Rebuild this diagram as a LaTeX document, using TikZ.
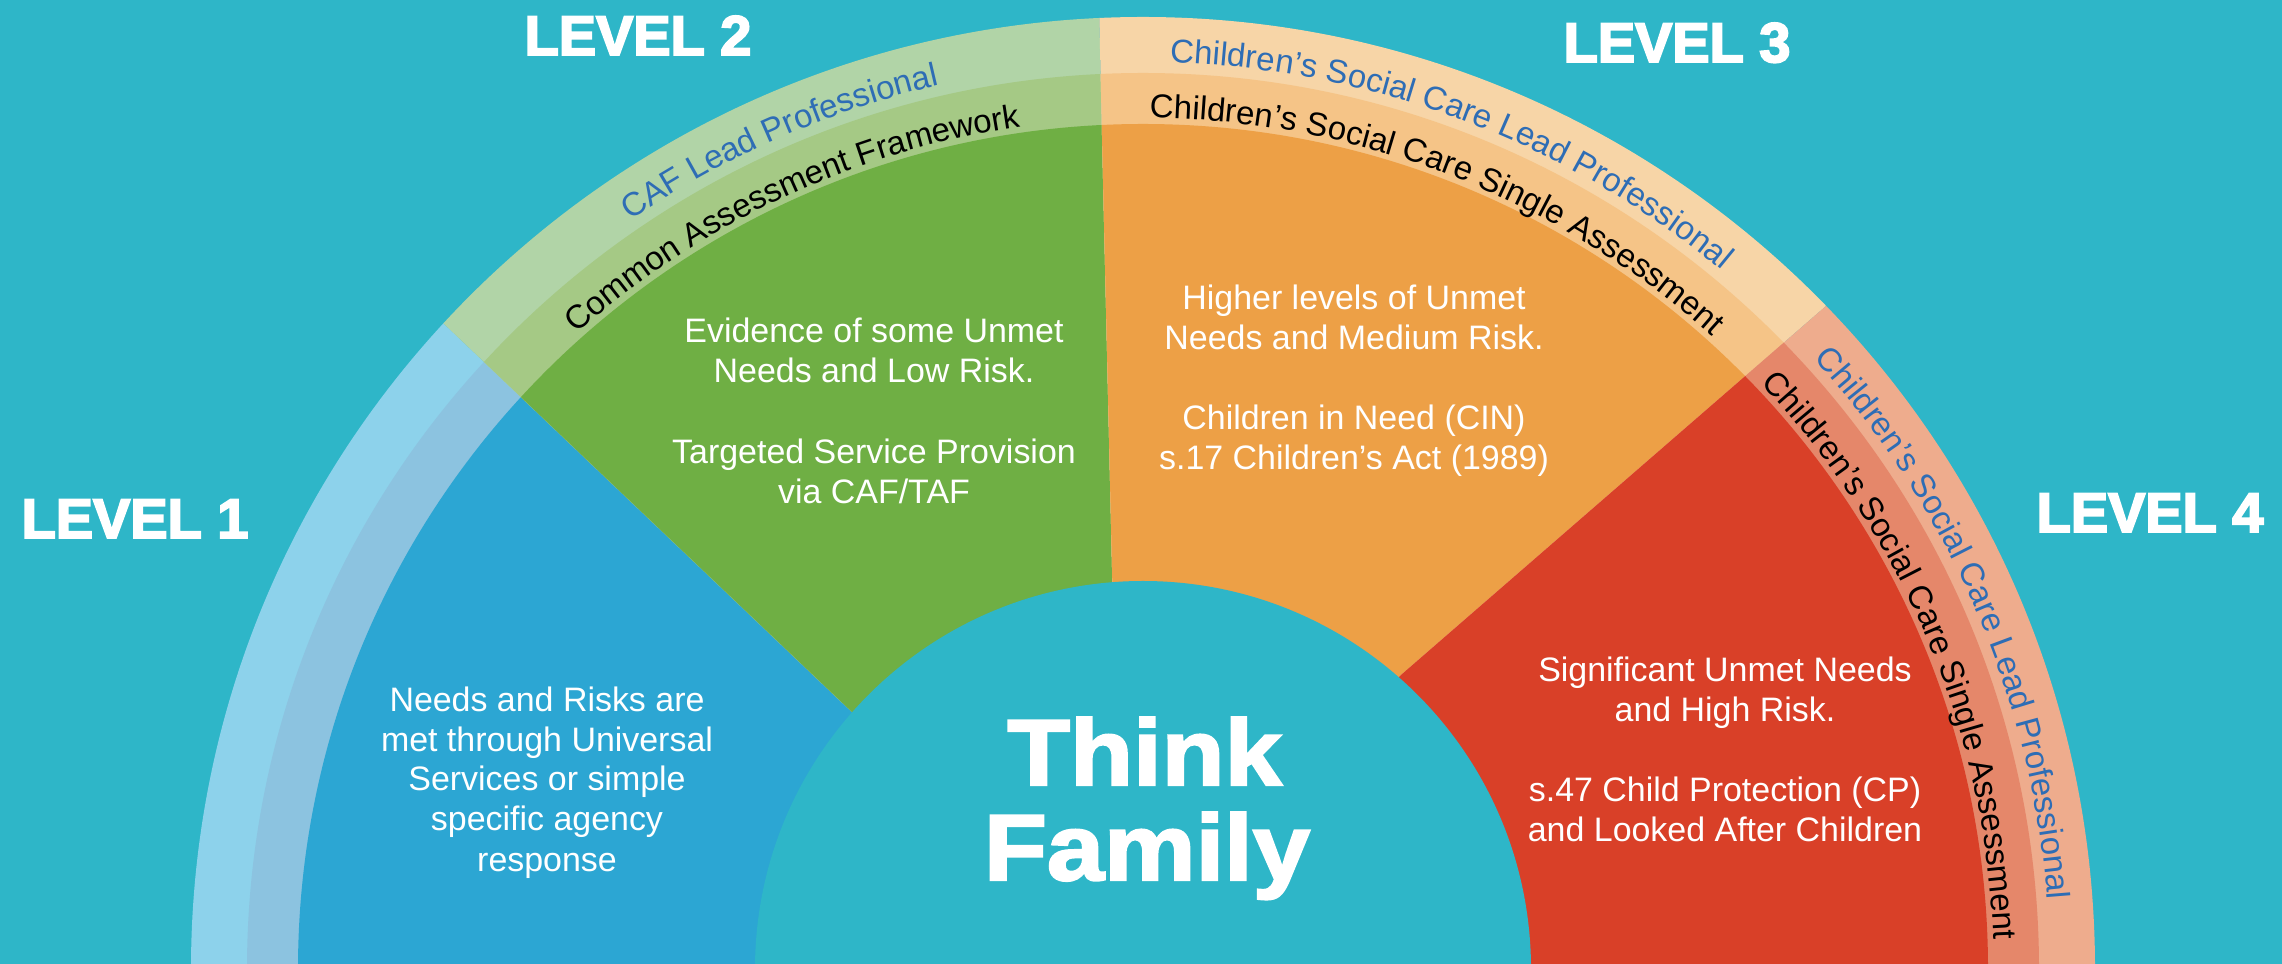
\documentclass[tikz,border=0pt]{standalone}
\usepackage{fontspec}
\setmainfont{Liberation Sans}
\newfontfamily\levelfont{Liberation Sans}[BoldFeatures={FakeBold=3.5}]
\newfontfamily\thinkfont{Liberation Sans}[BoldFeatures={FakeBold=2.5,FakeStretch=1.1}]
\usetikzlibrary{decorations.text,calc}
\definecolor{bgteal}{HTML}{2EB6C8}
\definecolor{blueA}{HTML}{8DD2EB}
\definecolor{blueB}{HTML}{8CC3E0}
\definecolor{blueC}{HTML}{2CA6D3}
\definecolor{greenA}{HTML}{B1D4A7}
\definecolor{greenB}{HTML}{A5C985}
\definecolor{greenC}{HTML}{6FAF44}
\definecolor{orangeA}{HTML}{F7D5A7}
\definecolor{orangeB}{HTML}{F5C487}
\definecolor{orangeC}{HTML}{EDA046}
\definecolor{redA}{HTML}{EEAC8D}
\definecolor{redB}{HTML}{E5876A}
\definecolor{redC}{HTML}{D94028}
\definecolor{arcblue}{HTML}{2E6DB5}
\newcommand\arcsize{\fontsize{9.39pt}{10pt}\selectfont}
\tikzset{
  body/.style={text=white, inner sep=0pt, anchor=base, font=\fontsize{9.65pt}{11.5pt}\selectfont},
  levellabel/.style={text=white, inner sep=0pt, anchor=base, font=\levelfont\bfseries\fontsize{15.9pt}{16pt}\selectfont},
  thinklabel/.style={text=white, inner sep=0pt, anchor=base, font=\thinkfont\bfseries\fontsize{26.6pt}{27pt}\selectfont},
  arctext/.style={decorate, decoration={text along path, text align=center, text={#1}}}
}
\begin{document}
\begin{tikzpicture}[x=0.01cm,y=0.01cm]
\clip (0,0) rectangle (2282,964);
\fill[bgteal] (0,0) rectangle (2282,964);
\coordinate (C) at (1143,-5);
\coordinate (H) at (1130,0);
\coordinate (P12i) at (853.3,250.7);
\coordinate (P12e) at (-39.6,1100);
\coordinate (P23i) at (1112.3,383);
\coordinate (P23e) at (1095.7,1100);
\coordinate (P34i) at (1401,289);
\coordinate (P34e) at (2335,1100);
% Level 1 sector
\begin{scope}
  \clip (H) -- (P12i) -- (P12e) -- (-200,1100) -- (-200,-100) -- (1130,-100) -- cycle;
  \fill[blueA] (C) circle[radius=952];
  \fill[blueB] (C) circle[radius=896];
  \fill[blueC] (C) circle[radius=845];
\end{scope}
% Level 2 sector
\begin{scope}
  \clip (H) -- (P12i) -- (P12e) -- (P23e) -- (P23i) -- cycle;
  \fill[greenA] (C) circle[radius=952];
  \fill[greenB] (C) circle[radius=896];
  \fill[greenC] (C) circle[radius=845];
\end{scope}
% Level 3 sector
\begin{scope}
  \clip (H) -- (P23i) -- (P23e) -- (P34e) -- (P34i) -- cycle;
  \fill[orangeA] (C) circle[radius=952];
  \fill[orangeB] (C) circle[radius=896];
  \fill[orangeC] (C) circle[radius=845];
\end{scope}
% Level 4 sector
\begin{scope}
  \clip (H) -- (P34i) -- (P34e) -- (2500,1100) -- (2500,-100) -- (1130,-100) -- cycle;
  \fill[redA] (C) circle[radius=952];
  \fill[redB] (C) circle[radius=896];
  \fill[redC] (C) circle[radius=845];
\end{scope}
% centre
\fill[bgteal] (C) circle[radius=388];

% texts along arcs
\path[arctext={|\arcsize\color{arcblue}|CAF Lead Professional}]
  ($(C)+(143.7:907)$) arc[start angle=143.7, end angle=83.7, radius=907];
\path[arctext={|\arcsize\color{black}|Common Assessment Framework}]
  ($(C)+(145:851)$) arc[start angle=145, end angle=85, radius=851];
\path[arctext={|\arcsize\color{arcblue}|Children’s Social Care Lead Professional}]
  ($(C)+(99.35:907)$) arc[start angle=99.35, end angle=39.35, radius=907];
\path[arctext={|\arcsize\color{black}|Children’s Social Care Single Assessment}]
  ($(C)+(98.8:851)$) arc[start angle=98.8, end angle=38.8, radius=851];
\path[arctext={|\arcsize\color{arcblue}|Children’s Social Care Lead Professional}]
  ($(C)+(53.35:907)$) arc[start angle=53.35, end angle=-6.65, radius=907];
\path[arctext={|\arcsize\color{black}|Children’s Social Care Single Assessment}]
  ($(C)+(52.75:851)$) arc[start angle=52.75, end angle=-7.25, radius=851];

% level labels
\node[levellabel] (lv1) at (135,426) {LEVEL 1};
\node[levellabel] (lv2) at (638,909) {LEVEL 2};
\node[levellabel] (lv3) at (1677,902) {LEVEL 3};
\node[levellabel] (lv4) at (2150,432) {LEVEL 4};

% Level 1 text
\node[body] (b1) at (547,252) {Needs and Risks are};
\node[body] (b2) at (547,212) {met through Universal};
\node[body] (b3) at (547,173) {Services or simple};
\node[body] (b4) at (547,133) {specific agency};
\node[body] (b5) at (547,92) {response};
% Level 2 text
\node[body] (g1) at (874,621) {Evidence of some Unmet};
\node[body] (g2) at (874,581) {Needs and Low Risk.};
\node[body] (g3) at (874,500) {Targeted Service Provision};
\node[body] (g4) at (874,460) {via CAF/TAF};
% Level 3 text
\node[body] (o1) at (1354,654) {Higher levels of Unmet};
\node[body] (o2) at (1354,614) {Needs and Medium Risk.};
\node[body] (o3) at (1354,534) {Children in Need (CIN)};
\node[body] (o4) at (1354,494) {s.17 Children’s Act (1989)};
% Level 4 text
\node[body] (r1) at (1725,282) {Significant Unmet Needs};
\node[body] (r2) at (1725,242) {and High Risk.};
\node[body] (r3) at (1725,162) {s.47 Child Protection (CP)};
\node[body] (r4) at (1725,122) {and Looked After Children};

% centre title
\node[thinklabel] (think) at (1144.5,179) {Think};
\node[thinklabel] (family) at (1147,84) {Family};
\end{tikzpicture}
\end{document}
